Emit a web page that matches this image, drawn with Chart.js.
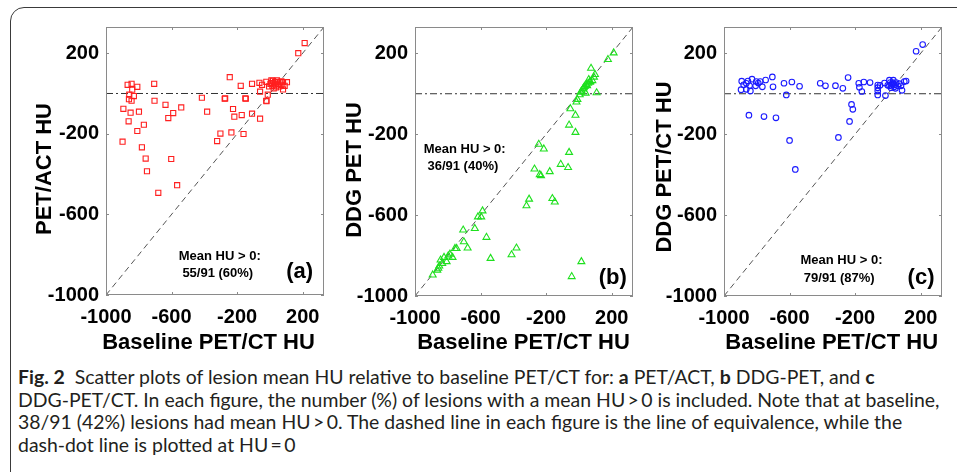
<!DOCTYPE html>
<html>
<head>
<meta charset="utf-8">
<script src="https://cdn.jsdelivr.net/npm/chart.js@4.4.1/dist/chart.umd.min.js"></script>
<style>
  body { margin: 0; background: #fff; width: 957px; height: 472px; overflow: hidden; position: relative; }
  #frame { position: absolute; left: 10px; top: 7px; width: 990px; height: 490px; border: 1.5px solid #3a3a3a; border-radius: 14px; }
  canvas { position: absolute; top: 0; }
  #cap { position: absolute; left: 18px; top: 366px; font-family: Lato, 'Open Sans', sans-serif; font-size: 18px; line-height: 22.7px; color: #231f20; }
  .ln { white-space: nowrap; width: max-content; }
</style>
</head>
<body>
<div id="frame"></div>
<canvas id="ca"></canvas>
<canvas id="cb"></canvas>
<canvas id="cc"></canvas>
<div id="cap">
  <div class="ln"><b>Fig. 2</b>&nbsp; Scatter plots of lesion mean HU relative to baseline PET/CT for: <b>a</b> PET/ACT, <b>b</b> DDG-PET, and <b>c</b></div>
  <div class="ln">DDG-PET/CT. In each figure, the number (%) of lesions with a mean HU&thinsp;&gt;&thinsp;0 is included. Note that at baseline,</div>
  <div class="ln">38/91 (42%) lesions had mean HU&thinsp;&gt;&thinsp;0. The dashed line in each figure is the line of equivalence, while the</div>
  <div class="ln">dash-dot line is plotted at HU&thinsp;=&thinsp;0</div>
</div>
<script>
// axis range shared by all three panels (HU)
var AXIS_MIN = -1000;
var AXIS_MAX = 330;
var TICKS = [-1000, -600, -200, 200];
var X_TITLE = 'Baseline PET/CT HU';

// (a) PET/ACT vs baseline
var petactX = [212, 173, -245, -706, -868, -844, -840, -809, -858, -830, -860, -844, -894, -850, -799, -862, -769, -809, -899, -781,
  -758, -750, -602, -566, -681, -704, -637, -590, -620, -541, -415, -383, -273, -225, -217, -172, -150, -109, -60, -235,
  -302, -322, -161, -178, -109, -64, -48, -60, -22, -13, -22, -5, 9, 19, 31, 43, 50, 60, 70, 80,
  90, 104, 80, 37, 23, 15, 3, 27, 39, 56, 9, 70, -276, -147, -21];
var petactY = [250, 200, 81, 48, 43, 48, 19, 33, -6, -13, -28, -36, -76, -95, -90, -138, -155, -186, -239, -267,
  -323, -386, -325, -455, -493, -36, -56, -97, -122, -69, -21, -90, -24, -77, -115, -107, -24, -100, -125, -193,
  -199, -236, -201, 38, 48, 53, 43, 9, -36, -6, 58, 35, 52, 63, 56, 65, 48, 56, 43, 56,
  38, 56, 20, 30, 25, 38, 48, 45, 40, 35, 65, 60, -26, -26, -38];

// (b) DDG-PET vs baseline
var ddgX = [212, 177, 74, 98, 82, 66, 45, 35, 25, 17, 41, 108, -9, -15, -52, -21, -60, -21, -245, -214,
  -60, -111, -66, -271, -231, -178, -239, 92, 56, 11, -304, -320, -162, -147, -588, -616, -596, -635, -706, -564,
  -702, -679, -746, -756, -539, -381, -411, -771, -797, -807, -844, -852, -864, -892, -834, -823, 15, -44, -787, -858,
  30, 50, 60, 70, 5];
var ddgY = [202, 169, 126, 95, 65, 57, 46, 36, 24, 13, 3, 5, -28, -41, -74, -106, -155, -191, -250, -273,
  -290, -349, -365, -372, -405, -385, -400, 82, 52, 8, -521, -554, -518, -535, -579, -609, -609, -666, -674, -710,
  -732, -763, -765, -765, -814, -763, -796, -809, -802, -830, -822, -852, -872, -896, -839, -809, -830, -904, -793, -863,
  30, 40, 70, 60, -5];

// (c) DDG-PET/CT vs baseline
var ddgctX = [212, 172, -892, -896, -864, -854, -864, -839, -829, -803, -807, -779, -766, -746, -705, -701, -634, -620, -586, -539,
  -413, -381, -320, -275, -243, -178, -174, -159, -147, -109, -62, -62, -62, -48, -21, -15, 9, 23, 33, 39,
  50, 60, 80, 86, 100, 111, 19, -1, -848, -756, -683, -222, -214, -234, -302, -600, -565, -844, -880, -791,
  -62, 70, 46, 29, 10, 30, 40, 15];
var ddgctY = [243, 210, 62, 20, 52, 63, 22, 14, 72, 60, 39, 60, 34, 68, 83, 34, 52, -6, 58, 37,
  52, 39, 40, 27, 80, 52, 32, 11, 58, 55, 43, 14, -6, 42, 53, -9, 67, 47, 67, 34,
  55, 39, 39, 17, 60, 63, 30, 42, -106, -113, -119, -53, -77, -137, -216, -231, -374, 39, 44, 53,
  30, 50, 27, 55, 40, 50, 45, 55];

var FONT = "'Liberation Sans', Arial, Helvetica, sans-serif";

// panel layout, page pixels; note/tag positions are in data units
var panels = [
  { id: 'ca', left: 0, width: 350, area: [106, 27, 324, 295], xs: petactX, ys: petactY,
    marker: 'rect', radius: 3.6, color: '#ff1f1f', yTitle: 'PET/ACT HU', xTitleAt: [208.5, 343], yTitleAt: [45, 169],
    note: ['Mean HU > 0:', '55/91 (60%)'], noteAt: [[-306, -807], [-318, -891]], tag: '(a)', tagAt: [181, -885] },
  { id: 'cb', left: 330, width: 330, area: [415, 27, 633, 296], xs: ddgX, ys: ddgY,
    marker: 'triangle', radius: 4, color: '#1ee01e', yTitle: 'DDG PET HU', xTitleAt: [523.5, 343], yTitleAt: [355, 170],
    note: ['Mean HU > 0:', '36/91 (40%)'], noteAt: [[-697, -275], [-708, -359]], tag: '(b)', tagAt: [206, -909] },
  { id: 'cc', left: 640, width: 317, area: [724, 27, 942, 296], xs: ddgctX, ys: ddgctY,
    marker: 'circle', radius: 2.8, color: '#1a1aff', yTitle: 'DDG PET/CT HU', xTitleAt: [831.7, 343], yTitleAt: [665, 167],
    note: ['Mean HU > 0:', '79/91 (87%)'], noteAt: [[-283, -826], [-297, -913]], tag: '(c)', tagAt: [202, -910] }
];

// draws the matlab style box, inward ticks, axis titles and the text notes
function decoFor(p) {
  return {
    id: 'deco',
    afterDatasetsDraw: function(chart) {
      var ctx = chart.ctx, a = chart.chartArea, sx = chart.scales.x, sy = chart.scales.y;
      ctx.save();
      ctx.strokeStyle = '#8a8a8a';
      ctx.lineWidth = 1;
      ctx.beginPath();
      TICKS.forEach(function(v) {
        var px = Math.round(sx.getPixelForValue(v)) + 0.5;
        ctx.moveTo(px, a.bottom); ctx.lineTo(px, a.bottom - 3);
        ctx.moveTo(px, a.top); ctx.lineTo(px, a.top + 3);
        var py = Math.round(sy.getPixelForValue(v)) + 0.5;
        ctx.moveTo(a.left, py); ctx.lineTo(a.left + 3, py);
        ctx.moveTo(a.right, py); ctx.lineTo(a.right - 3, py);
      });
      ctx.stroke();
      ctx.strokeRect(a.left + 0.5, a.top + 0.5, a.right - a.left - 1, a.bottom - a.top - 1);

      ctx.fillStyle = '#000';
      ctx.textAlign = 'center';
      ctx.textBaseline = 'middle';
      ctx.font = 'bold 22px ' + FONT;
      ctx.fillText(X_TITLE, p.xTitleAt[0] - p.left, p.xTitleAt[1]);
      ctx.save();
      ctx.translate(p.yTitleAt[0] - p.left, p.yTitleAt[1]);
      ctx.rotate(-Math.PI / 2);
      ctx.fillText(p.yTitle, 0, 0);
      ctx.restore();

      ctx.font = 'bold 13px ' + FONT;
      p.note.forEach(function(t, i) {
        ctx.fillText(t, sx.getPixelForValue(p.noteAt[i][0]), sy.getPixelForValue(p.noteAt[i][1]));
      });
      ctx.font = 'bold 22px ' + FONT;
      ctx.fillText(p.tag, sx.getPixelForValue(p.tagAt[0]), sy.getPixelForValue(p.tagAt[1]));
      ctx.restore();
    }
  };
}

function makePanel(p) {
  var cv = document.getElementById(p.id);
  cv.style.left = p.left + 'px';
  cv.width = p.width;
  cv.height = 360;
  var l = p.area[0], t = p.area[1], r = p.area[2], b = p.area[3];
  var tickFont = { family: FONT, size: 20, weight: 'bold', lineHeight: 1.2 };
  var fixTicks = function(s) { s.ticks = TICKS.map(function(v) { return { value: v }; }); };
  var fmt = function(v) { return String(v); };
  var points = p.xs.map(function(x, i) { return { x: x, y: p.ys[i] }; });

  return new Chart(cv, {
    type: 'scatter',
    data: {
      datasets: [
        { data: points, pointStyle: p.marker, pointRadius: p.radius, pointBorderColor: p.color,
          pointBackgroundColor: 'rgba(0,0,0,0)', pointBorderWidth: 1.1 },
        // line of equivalence
        { data: [{ x: AXIS_MIN, y: AXIS_MIN }, { x: AXIS_MAX, y: AXIS_MAX }], showLine: true,
          borderColor: '#555', borderWidth: 1, borderDash: [6, 4], pointRadius: 0 },
        // HU = 0
        { data: [{ x: AXIS_MIN, y: 0 }, { x: AXIS_MAX, y: 0 }], showLine: true,
          borderColor: '#333', borderWidth: 1, borderDash: [7, 3, 2, 3], pointRadius: 0 }
      ]
    },
    options: {
      responsive: false,
      animation: false,
      events: [],
      layout: { padding: { left: 0, top: t, right: p.width - (r - p.left), bottom: 360 - b - 36 } },
      plugins: { legend: { display: false }, tooltip: { enabled: false } },
      scales: {
        x: {
          type: 'linear', min: AXIS_MIN, max: AXIS_MAX,
          afterBuildTicks: fixTicks,
          afterFit: function(s) { s.height = 36; },
          grid: { display: false, drawTicks: false },
          border: { display: false },
          ticks: { padding: 10, color: '#000', font: tickFont, maxRotation: 0, autoSkip: false, callback: fmt }
        },
        y: {
          type: 'linear', min: AXIS_MIN, max: AXIS_MAX,
          afterBuildTicks: fixTicks,
          afterFit: function(s) { s.width = l - p.left; },
          grid: { display: false, drawTicks: false },
          border: { display: false },
          ticks: { padding: 7, color: '#000', font: tickFont, autoSkip: false, callback: fmt }
        }
      }
    },
    plugins: [decoFor(p)]
  });
}

panels.forEach(makePanel);

// fit the caption so its second line spans the same width as in the figure
var lines = document.querySelectorAll('#cap .ln');
var w2 = lines[1].getBoundingClientRect().width;
document.getElementById('cap').style.fontSize = (18 * 922 / w2).toFixed(2) + 'px';
</script>
</body>
</html>
